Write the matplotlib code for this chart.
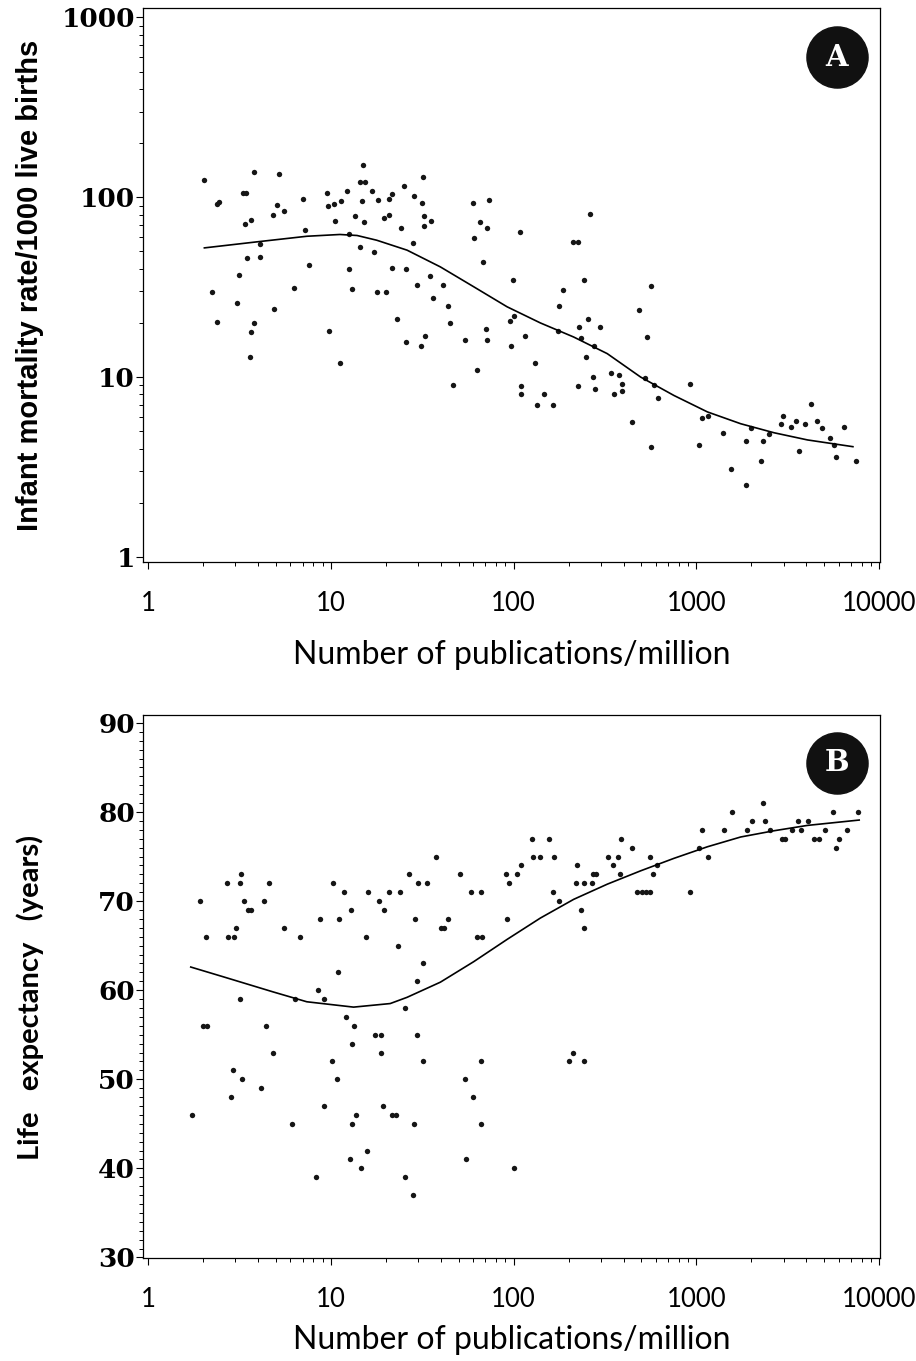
import numpy as np
import matplotlib
matplotlib.use("Agg")
import matplotlib.pyplot as plt
from matplotlib.ticker import LogLocator, NullFormatter, MultipleLocator, FixedLocator

# publicaciones por millon vs mortalidad infantil (panel A)
pubs_a = [2.03, 2.23, 2.39, 2.37, 2.44, 3.06, 3.14, 3.29, 3.43, 3.38, 3.47, 3.67, 3.67, 3.61,
          3.80, 3.81, 4.08, 4.11, 4.80, 4.90, 5.09, 5.22, 5.52, 6.31, 7.04, 7.25, 7.57, 9.50,
          9.61, 10.4, 10.5, 9.82, 11.2, 11.4, 12.2, 12.5, 12.5, 13.1, 13.5, 14.4, 14.5, 15.3,
          14.9, 14.7, 15.1, 16.7, 17.3, 18.0, 17.8, 20.1, 19.6, 20.8, 21.6, 20.9, 21.6, 23.0,
          24.3, 25.1, 25.8, 25.8, 28.1, 28.3, 29.4, 31.5, 31.7, 32.4, 32.3, 32.8, 31.3, 35.1,
          35.0, 36.2, 40.8, 43.7, 44.9, 46.6, 54.4, 59.6, 60.4, 63.0, 65.7, 68.2, 70.6, 71.1,
          71.8, 73.0, 95.5, 100, 96.3, 99.3, 108, 109, 110, 116, 131, 134, 147, 164, 176, 174,
          187, 212, 225, 225, 229, 233, 243, 250, 254, 261, 271, 276, 279, 295, 339, 356, 378,
          393, 393, 445, 487, 520, 535, 563, 563, 588, 613, 918, 1028, 1067, 1162, 1403, 1553,
          1862, 1862, 1982, 2256, 2326, 2497, 2884, 2992, 3272, 3498, 3646, 3917, 4227, 4560,
          4874, 5350, 5623, 5808, 6412, 7430]
imr_a = [125, 29.9, 20.2, 92.3, 94.2, 25.9, 37.0, 106, 106, 71.1, 46.0, 74.8, 17.9, 13.0,
         20.1, 138, 55.0, 46.6, 79.7, 23.9, 90.6, 135, 83.6, 31.1, 97.5, 65.8, 41.9, 106,
         89.9, 91.8, 74.2, 18.1, 12.0, 95.3, 108, 62.5, 40.0, 30.8, 78.7, 52.7, 122, 122,
         151, 95.3, 72.9, 108, 49.9, 96.2, 29.7, 29.8, 76.4, 97.5, 104, 79.4, 40.5, 21.0,
         67.5, 116, 39.8, 15.6, 55.5, 102, 32.7, 93.5, 129, 79.1, 69.3, 17.0, 14.9, 74.2,
         36.4, 27.7, 32.6, 25.0, 20.0, 9.0, 16.1, 92.6, 59.2, 11.0, 73.3, 43.4, 18.4, 16.0,
         67.3, 96.6, 20.4, 22.0, 14.8, 34.6, 63.9, 8.9, 8.0, 17.0, 12.0, 7.0, 8.0, 7.0, 24.8, 18.0,
         30.5, 56.2, 56.2, 8.9, 18.9, 16.4, 34.6, 12.9, 21.0, 80.5, 10.0, 14.9, 8.6, 19.0, 10.5, 8.0, 10.3,
         9.2, 8.4, 5.6, 23.6, 9.9, 16.8, 32.3, 4.1, 9.0, 7.6, 9.1, 4.2, 5.9, 6.1, 4.9, 3.1,
         4.4, 2.5, 5.2, 3.4, 4.4, 4.8, 5.5, 6.1, 5.3, 5.7, 3.9, 5.5, 7.1, 5.7,
         5.2, 4.6, 4.2, 3.6, 5.3, 3.4]
curva_a_x = [2.03, 3.93, 7.38, 11.2, 13.9, 17.8, 26.1, 39.7, 60.4, 92, 140, 213, 325, 495,
             753, 1148, 1747, 2660, 4053, 7180]
curva_a_y = [52.3, 56.5, 60.7, 62.1, 61.3, 57.7, 50.8, 41.0, 31.8, 24.6, 20.0, 16.7, 13.5,
             10.0, 7.9, 6.4, 5.5, 4.9, 4.47, 4.1]

# publicaciones vs esperanza de vida (panel B)
pubs_b = [1.73, 1.92, 2.00, 2.09, 2.08, 2.69, 2.73, 2.95, 2.92, 2.84, 3.02, 3.18, 3.23, 3.18,
          3.27, 3.33, 3.53, 3.65, 4.16, 4.32, 4.42, 4.60, 4.80, 5.52, 6.15, 6.37, 6.76, 8.27,
          8.51, 8.76, 9.18, 9.18, 10.1, 10.2, 10.8, 11.0, 11.1, 11.8, 12.1, 12.7, 12.9, 13.1,
          13.1, 13.4, 13.7, 14.6, 15.5, 15.8, 16.0, 17.5, 18.9, 18.3, 18.8, 19.2, 19.5, 20.9,
          21.6, 22.8, 23.4, 23.8, 25.5, 25.5, 26.8, 28.0, 28.6, 28.9, 29.6, 29.6, 30.0, 31.7,
          31.9, 33.4, 37.8, 40.2, 41.3, 43.7, 50.6, 54.4, 54.8, 58.4, 60.1, 63.0, 66.8, 65.9,
          65.9, 66.3, 90.4, 92.3, 94.4, 100, 104, 109, 126, 128, 140, 156, 165, 167, 177, 201,
          210, 218, 221, 233, 244, 244, 241, 267, 271, 283, 330, 349, 371, 381, 386, 442, 475,
          505, 532, 554, 556, 580, 605, 921, 1028, 1077, 1162, 1409, 1573, 1891, 2008, 2305,
          2373, 2540, 2941, 3070, 3352, 3597, 3739, 4053, 4373, 4656, 5025, 5598, 5768, 6012,
          6625, 7674]
vida_b = [46, 70, 56, 56, 66, 72, 66, 66, 51, 48, 67, 72, 73, 59,
          50, 70, 69, 69, 49, 70, 56, 72, 53, 67, 45, 59, 66, 39,
          60, 68, 59, 47, 52, 72, 50, 62, 68, 71, 57, 41, 69, 45,
          54, 56, 46, 40, 66, 42, 71, 55, 55, 70, 53, 47, 69, 71,
          46, 46, 65, 71, 39, 58, 73, 37, 45, 68, 55, 61, 72, 63,
          52, 72, 75, 67, 67, 68, 73, 50, 41, 71, 48, 66, 66, 71,
          52, 45, 73, 68, 72, 40, 73, 74, 77, 75, 75, 77, 71, 75, 70, 52,
          53, 72, 74, 69, 67, 52, 72, 72, 73, 73, 75, 74, 75, 73, 77, 76, 71,
          71, 71, 71, 75, 73, 74, 71, 76, 78, 75, 78, 80, 78, 79, 81,
          79, 78, 77, 77, 78, 79, 78, 79, 77, 77, 78, 80, 76, 77,
          78, 80]
curva_b_x = [1.71, 2.58, 4.84, 7.38, 13.3, 21.1, 26.1, 39.7, 60.4, 92, 140, 213, 325, 495,
             753, 1148, 1747, 2660, 4053, 7770]
curva_b_y = [62.6, 61.5, 59.8, 58.7, 58.1, 58.5, 59.2, 60.9, 63.2, 65.7, 68.1, 70.2, 71.9,
             73.4, 74.8, 76.1, 77.2, 77.9, 78.5, 79.1]

x_ticks = [1, 10, 100, 1000, 10000]
x_ticklabels = ["1", "10", "100", "1000", "10000"]
y_ticks_a = [1, 10, 100, 1000]
y_ticklabels_a = ["1", "10", "100", "1000"]
y_ticks_b = [30, 40, 50, 60, 70, 80, 90]

fig = plt.figure(figsize=(9.16, 13.61), dpi=100)
ax_a = fig.add_axes([0.1564, 0.5873, 0.8043, 0.4065])
ax_b = fig.add_axes([0.1564, 0.0757, 0.8043, 0.3990])

fuente_num = dict(family="DejaVu Serif", weight="bold", size=19)
fuente_x = dict(family=["Lato", "DejaVu Sans"], size=18.5)
fuente_titulo = dict(family=["Lato", "DejaVu Sans"], size=23)


def ejes_comunes(ax):
    ax.set_xscale("log")
    ax.set_xlim(0.94, 10100)
    ax.xaxis.set_major_locator(FixedLocator(x_ticks))
    ax.xaxis.set_minor_locator(LogLocator(base=10, subs=np.arange(2, 10)))
    ax.xaxis.set_minor_formatter(NullFormatter())
    ax.set_xticklabels(x_ticklabels, **fuente_x)
    ax.tick_params(which="major", direction="out", length=5, width=0.8, color="black")
    ax.tick_params(which="minor", direction="out", length=3, width=0.7, color="black")
    ax.tick_params(axis="x", which="major", pad=16)
    ax.tick_params(axis="y", which="major", pad=1)
    for s in ax.spines.values():
        s.set_linewidth(0.9)
        s.set_color("black")
    ax.set_xlabel("Number of publications/million", va="center", **fuente_titulo)


def etiqueta(ax, letra):
    ax.plot([0.941], [0.912], "o", ms=44, color="#111111", transform=ax.transAxes,
            clip_on=False, zorder=5)
    ax.text(0.941, 0.912, letra, transform=ax.transAxes, ha="center", va="center",
            color="white", family="DejaVu Serif", weight="bold", size=21, zorder=6)


# panel A
ax_a.scatter(pubs_a, imr_a, s=15, color="#151515", linewidths=0, zorder=3)
ax_a.plot(curva_a_x, curva_a_y, color="black", linewidth=1.2, zorder=4)
ejes_comunes(ax_a)
ax_a.set_yscale("log")
ax_a.set_ylim(0.94, 1123)
ax_a.yaxis.set_major_locator(FixedLocator(y_ticks_a))
ax_a.yaxis.set_minor_locator(LogLocator(base=10, subs=np.arange(2, 10)))
ax_a.yaxis.set_minor_formatter(NullFormatter())
ax_a.set_yticklabels(y_ticklabels_a, **fuente_num)
ax_a.set_ylabel("Infant mortality rate/1000 live births", va="center",
                family=["Liberation Sans Narrow", "Liberation Sans"], weight="bold", size=21)
ax_a.xaxis.set_label_coords(0.5, -0.1687)
ax_a.yaxis.set_label_coords(-0.1538, 0.5)
etiqueta(ax_a, "A")

# panel B
ax_b.scatter(pubs_b, vida_b, s=15, color="#151515", linewidths=0, zorder=3)
ax_b.plot(curva_b_x, curva_b_y, color="black", linewidth=1.2, zorder=4)
ejes_comunes(ax_b)
ax_b.set_ylim(29.94, 90.9)
ax_b.yaxis.set_major_locator(FixedLocator(y_ticks_b))
ax_b.yaxis.set_minor_locator(MultipleLocator(1))
ax_b.set_yticklabels([str(v) for v in y_ticks_b], **fuente_num)
ax_b.set_ylabel("Life   expectancy   (years)", va="center", family=["Lato", "DejaVu Sans"],
                weight="bold", size=21)
ax_b.xaxis.set_label_coords(0.5, -0.151)
ax_b.yaxis.set_label_coords(-0.1538, 0.48)
etiqueta(ax_b, "B")

fig.savefig("out.png", dpi=100, facecolor="white")
